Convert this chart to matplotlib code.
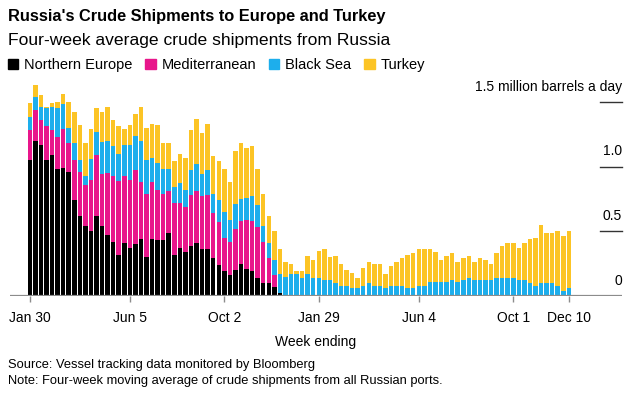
import numpy as np
import pandas as pd
import matplotlib
matplotlib.use('Agg')
import matplotlib.pyplot as plt
from matplotlib.patches import Patch
from matplotlib import transforms

plt.rcParams['font.family'] = ['Liberation Sans', 'DejaVu Sans']

# weekly data, million barrels a day, week ending Jan 30 2022 .. Dec 10 2023
weeks = pd.date_range('2022-01-30', '2023-12-10', freq='7D')

northern_europe = [1.05, 1.20, 1.17, 1.05, 1.09, 0.98, 0.99, 0.96, 0.74, 0.62,
                   0.54, 0.50, 0.62, 0.54, 0.47, 0.42, 0.32, 0.41, 0.37, 0.40,
                   0.44, 0.30, 0.44, 0.43, 0.43, 0.49, 0.32, 0.37, 0.34, 0.39,
                   0.41, 0.36, 0.36, 0.29, 0.24, 0.19, 0.16, 0.20, 0.25, 0.21,
                   0.19, 0.14, 0.10, 0.10, 0.07, 0.02] + [0.0] * 52
mediterranean = [0.23, 0.24, 0.19, 0.26, 0.19, 0.25, 0.30, 0.22, 0.31, 0.34,
                 0.32, 0.40, 0.47, 0.40, 0.48, 0.51, 0.57, 0.52, 0.53, 0.57,
                 0.44, 0.49, 0.44, 0.39, 0.36, 0.32, 0.40, 0.35, 0.35, 0.39,
                 0.40, 0.41, 0.42, 0.35, 0.33, 0.26, 0.26, 0.32, 0.33, 0.38,
                 0.39, 0.39, 0.32, 0.19, 0.09] + [0.0] * 53
black_sea = [0.10, 0.10, 0.10, 0.14, 0.18, 0.22, 0.19, 0.12, 0.13, 0.09,
             0.07, 0.16, 0.18, 0.25, 0.25, 0.23, 0.21, 0.24, 0.27, 0.27,
             0.32, 0.26, 0.19, 0.21, 0.19, 0.17, 0.12, 0.15, 0.13, 0.19,
             0.21, 0.17, 0.19, 0.15, 0.17, 0.20, 0.17, 0.19, 0.17, 0.17,
             0.19, 0.17, 0.12, 0.12, 0.12, 0.15, 0.15, 0.17, 0.17, 0.14,
             0.17, 0.14, 0.14, 0.12, 0.12, 0.10, 0.08, 0.08, 0.06, 0.06,
             0.08, 0.10, 0.08, 0.08, 0.06, 0.08, 0.08, 0.08, 0.06, 0.06,
             0.08, 0.08, 0.11, 0.11, 0.11, 0.11, 0.12, 0.11, 0.12, 0.14,
             0.12, 0.12, 0.12, 0.12, 0.14, 0.14, 0.14, 0.14, 0.12, 0.12,
             0.10, 0.08, 0.10, 0.10, 0.10, 0.08, 0.04, 0.06]
turkey = [0.11, 0.09, 0.09, 0.01, 0.03, 0.05, 0.08, 0.20, 0.24, 0.27,
          0.25, 0.23, 0.18, 0.23, 0.26, 0.20, 0.21, 0.12, 0.15, 0.17,
          0.26, 0.25, 0.26, 0.29, 0.20, 0.20, 0.20, 0.23, 0.25, 0.31,
          0.35, 0.32, 0.36, 0.29, 0.30, 0.33, 0.29, 0.41, 0.43, 0.38,
          0.39, 0.28, 0.25, 0.21, 0.22, 0.19, 0.11, 0.08, 0.02, 0.05,
          0.14, 0.14, 0.21, 0.24, 0.18, 0.21, 0.17, 0.12, 0.12, 0.08,
          0.14, 0.16, 0.17, 0.17, 0.11, 0.15, 0.18, 0.21, 0.26, 0.27,
          0.28, 0.28, 0.25, 0.23, 0.17, 0.20, 0.21, 0.15, 0.17, 0.17,
          0.14, 0.17, 0.16, 0.13, 0.19, 0.25, 0.27, 0.27, 0.25, 0.29,
          0.34, 0.37, 0.45, 0.39, 0.39, 0.42, 0.42, 0.44]

series = ['Northern Europe', 'Mediterranean', 'Black Sea', 'Turkey']
colors = ['#000000', '#e8168b', '#1daeec', '#fcc425']
tick_dates = ['2022-01-30', '2022-06-05', '2022-10-02', '2023-01-29',
              '2023-06-04', '2023-10-01', '2023-12-10']
y_ticks = [0, 0.5, 1.0, 1.5]
y_labels = ['0', '0.5', '1.0', '1.5 million barrels a day']

W, H = 627, 393
fig = plt.figure(figsize=(W / 100, H / 100), dpi=100)
ax = fig.add_axes([10 / W, 97 / H, 612 / W, 216 / H])

bottom = np.zeros(len(weeks))
for vals, c in zip([northern_europe, mediterranean, black_sea, turkey], colors):
    vals = np.array(vals)
    ax.bar(weeks, vals, bottom=bottom, width=5.7, color=c, linewidth=0, zorder=2)
    bottom += vals

ax.set_ylim(0, 216 / 129.4)
ax.set_xlim(weeks[0] - pd.Timedelta(days=25), weeks[0] + pd.Timedelta(days=746))

for s in ax.spines.values():
    s.set_visible(False)
ax.axhline(0, color='#8c8c8c', lw=1.6, zorder=3)

ax.set_yticks([])
ax.set_xticks(pd.to_datetime(tick_dates))
ax.set_xticklabels([pd.Timestamp(d).strftime('%b ') + str(pd.Timestamp(d).day) for d in tick_dates])
ax.tick_params(axis='x', length=4, width=1, color='#8c8c8c', labelsize=10, pad=7)

# short gridlines and labels on the right
ytr = ax.get_yaxis_transform()
lab_tr = transforms.offset_copy(ytr, fig=fig, x=0, y=6, units='points')
for v, lab in zip(y_ticks, y_labels):
    if v > 0:
        ax.plot([0.964, 1.0], [v, v], transform=ytr, color='#333333', lw=1, clip_on=False)
    ax.text(1.0, v, lab, transform=lab_tr, ha='right', va='bottom', fontsize=10)

fig.text(8 / W, 1 - 17 / H, "Russia's Crude Shipments to Europe and Turkey",
         fontsize=11.8, fontweight='bold', va='center', ha='left')
fig.text(8 / W, 1 - 40 / H, 'Four-week average crude shipments from Russia',
         fontsize=12.6, va='center', ha='left')

handles = [Patch(color=c, label=s) for s, c in zip(series, colors)]
fig.legend(handles=handles, loc='center left', bbox_to_anchor=(2 / W, 1 - 65 / H),
           ncol=4, frameon=False, fontsize=10.5, handlelength=0.7, handleheight=0.7,
           handletextpad=0.4, columnspacing=0.9, borderaxespad=0)

fig.text(316 / W, 1 - 342 / H, 'Week ending', fontsize=10, ha='center', va='center')
fig.text(8 / W, 1 - 365 / H, 'Source: Vessel tracking data monitored by Bloomberg',
         fontsize=9.3, ha='left', va='center')
fig.text(8 / W, 1 - 381 / H, 'Note: Four-week moving average of crude shipments from all Russian ports.',
         fontsize=9.3, ha='left', va='center')

fig.savefig('out.png', dpi=100)
